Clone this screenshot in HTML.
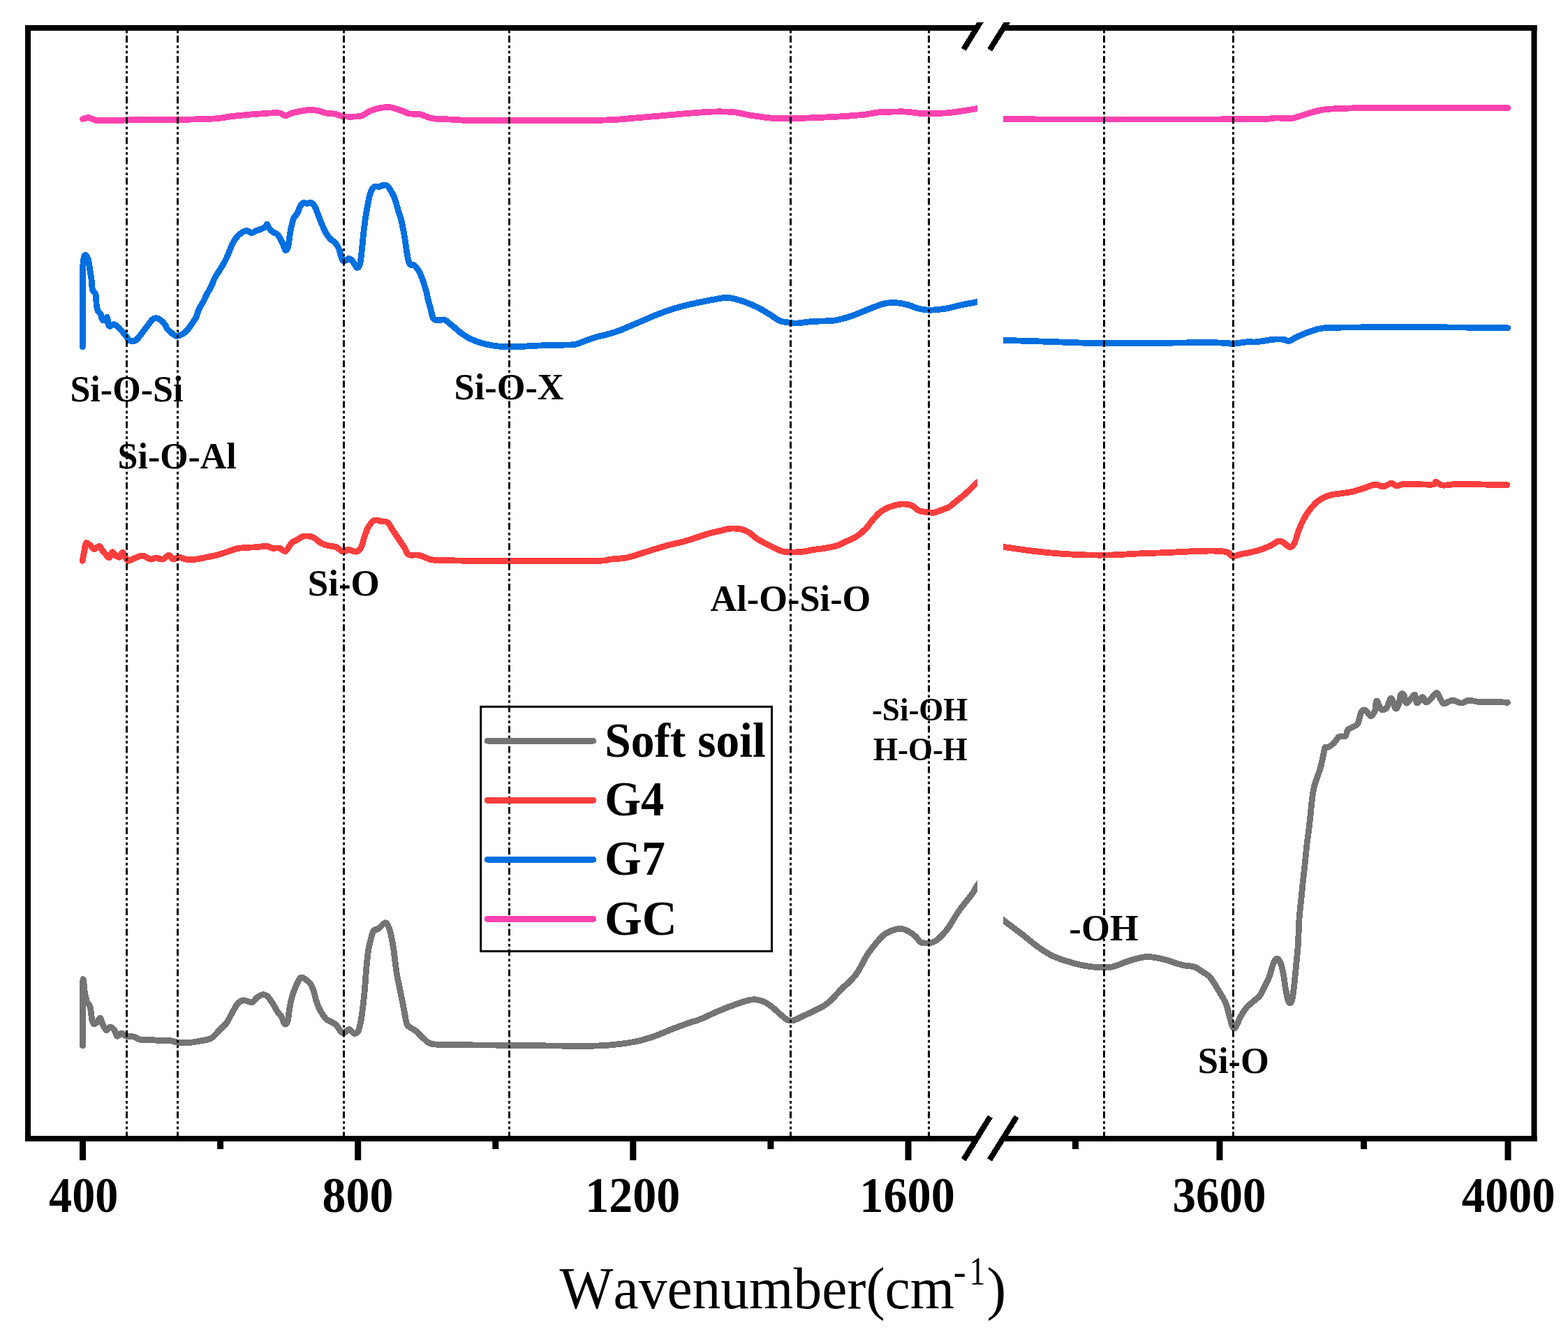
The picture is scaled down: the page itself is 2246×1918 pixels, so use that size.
<!DOCTYPE html><html><head><meta charset="utf-8"><title>FTIR spectra</title>
<style>html,body{margin:0;padding:0;background:#fff;overflow:hidden}svg{display:block}text{font-family:"Liberation Serif","Times New Roman",serif;font-kerning:none}</style></head><body>
<svg width="2246" height="1918" viewBox="0 0 2246 1918">
<rect width="2246" height="1918" fill="#fff"/>
<defs><clipPath id="cl"><rect x="44" y="44" width="1356.0" height="1583"/></clipPath>
<clipPath id="cr"><rect x="1437" y="44" width="756.5" height="1583"/></clipPath>
<clipPath id="ct"><rect x="0" y="32" width="2246" height="1918"/></clipPath></defs>
<path d="M118.5,170.5 C119.9,170.2 123.7,168.3 127.0,168.6 C130.3,168.9 133.4,171.8 138.6,172.5 C143.8,173.2 150.9,172.6 158.0,172.5 C165.1,172.4 174.0,172.2 181.0,172.0 C188.0,171.8 187.8,171.6 200.0,171.5 C212.2,171.4 238.5,171.7 254.0,171.5 C269.5,171.3 283.3,170.8 293.0,170.5 C302.7,170.2 305.6,170.2 312.0,169.6 C318.4,169.0 325.2,167.5 331.7,166.7 C338.2,165.9 344.6,165.3 351.0,164.7 C357.4,164.1 363.6,163.7 370.0,163.2 C376.4,162.7 384.4,162.1 389.6,161.9 C394.8,161.7 397.8,161.4 401.0,162.0 C404.2,162.6 406.1,165.7 409.0,165.7 C411.9,165.7 413.7,163.2 418.5,161.9 C423.3,160.6 433.0,158.7 437.8,158.0 C442.6,157.3 444.3,157.4 447.5,157.6 C450.7,157.8 453.8,158.3 457.0,159.0 C460.2,159.7 463.0,161.2 466.8,161.9 C470.6,162.6 475.9,162.4 480.0,163.2 C484.1,164.0 486.8,166.1 491.6,166.7 C496.4,167.3 504.5,167.2 509.0,167.0 C513.5,166.8 515.1,167.0 518.6,165.7 C522.1,164.4 525.2,160.9 530.0,159.0 C534.8,157.1 542.4,154.9 547.6,154.1 C552.8,153.3 556.2,153.3 561.0,154.1 C565.8,154.9 572.3,157.6 576.5,159.0 C580.7,160.4 581.8,162.0 586.0,162.8 C590.2,163.6 596.1,162.7 601.6,163.8 C607.1,164.9 611.9,168.4 619.0,169.6 C626.1,170.8 635.0,170.5 644.0,171.0 C653.0,171.5 658.5,172.2 673.0,172.5 C687.5,172.8 711.7,172.4 731.0,172.5 C750.3,172.6 769.7,172.9 789.0,172.9 C808.3,172.9 831.6,172.7 846.8,172.5 C862.0,172.3 871.4,171.9 880.0,171.5 C888.6,171.1 889.1,170.8 898.6,170.0 C908.1,169.2 924.1,167.8 937.0,166.7 C949.9,165.6 962.9,164.3 975.8,163.2 C988.7,162.1 1004.8,160.9 1014.4,160.3 C1024.0,159.8 1027.3,159.8 1033.7,159.9 C1040.1,160.0 1046.6,160.1 1053.0,160.9 C1059.4,161.7 1065.5,163.6 1072.0,164.7 C1078.5,165.8 1085.2,166.8 1091.7,167.6 C1098.2,168.4 1104.0,169.3 1111.0,169.6 C1118.0,169.9 1124.3,169.8 1134.0,169.6 C1143.7,169.4 1156.8,169.1 1169.0,168.6 C1181.2,168.1 1198.7,167.2 1207.5,166.7 C1216.3,166.2 1216.7,165.9 1222.0,165.5 C1227.3,165.1 1233.2,164.8 1239.3,164.0 C1245.4,163.2 1252.1,161.6 1258.6,160.9 C1265.0,160.2 1271.6,160.2 1278.0,160.1 C1284.4,159.9 1290.6,159.7 1297.0,160.0 C1303.4,160.3 1310.9,161.8 1316.5,162.2 C1322.1,162.6 1324.1,162.4 1330.5,162.3 C1336.9,162.2 1347.7,162.4 1355.0,161.9 C1362.3,161.4 1367.0,160.6 1374.4,159.5 C1381.8,158.4 1393.6,156.6 1399.5,155.5 C1405.4,154.4 1408.2,153.4 1410.0,153.0" fill="none" stroke="#FD42B0" stroke-width="8.8" stroke-linejoin="round" stroke-linecap="round" shape-rendering="crispEdges" clip-path="url(#cl)"/>
<path d="M1425.0,170.5 C1427.0,170.5 1425.0,170.4 1437.0,170.5 C1449.0,170.6 1474.2,170.9 1497.0,171.0 C1519.8,171.1 1548.5,171.1 1574.0,171.1 C1599.5,171.1 1624.2,171.0 1650.0,171.0 C1675.8,171.0 1703.0,171.1 1729.0,171.0 C1755.0,170.9 1790.8,170.7 1806.0,170.5 C1821.2,170.3 1816.2,170.1 1820.0,169.8 C1823.8,169.6 1824.3,169.0 1829.0,169.0 C1833.7,169.0 1843.2,169.8 1848.0,169.6 C1852.8,169.4 1853.2,168.9 1858.0,167.6 C1862.8,166.2 1870.6,163.3 1877.0,161.5 C1883.4,159.7 1890.0,158.0 1896.5,157.0 C1903.0,156.0 1906.4,156.1 1916.0,155.7 C1925.6,155.3 1934.7,154.8 1954.0,154.5 C1973.3,154.2 2007.4,154.1 2031.7,154.1 C2056.0,154.1 2078.6,154.2 2100.0,154.3 C2121.4,154.4 2150.0,154.6 2160.0,154.7" fill="none" stroke="#FD42B0" stroke-width="8.8" stroke-linejoin="round" stroke-linecap="round" shape-rendering="crispEdges" clip-path="url(#cr)"/>
<path d="M118.5,496.7 C118.5,488.9 118.6,466.1 118.6,450.0 C118.6,433.9 118.6,412.0 118.7,400.0 C118.8,388.0 118.7,383.2 119.0,378.0 C119.3,372.8 119.7,370.7 120.3,368.5 C120.9,366.3 121.7,365.1 122.4,365.0 C123.1,364.9 123.9,366.4 124.6,367.8 C125.3,369.2 126.1,370.0 126.8,373.3 C127.5,376.6 128.3,383.2 129.0,387.8 C129.7,392.4 130.5,396.2 131.1,400.8 C131.7,405.4 131.6,411.9 132.6,415.3 C133.6,418.7 135.9,417.1 136.9,421.0 C137.9,424.9 137.8,434.4 138.4,438.5 C139.0,442.6 139.5,443.8 140.5,445.7 C141.5,447.6 143.2,448.1 144.2,450.0 C145.2,451.9 145.3,455.9 146.3,457.3 C147.3,458.8 148.8,459.2 150.0,458.7 C151.2,458.2 152.8,453.4 153.6,454.4 C154.4,455.4 154.3,462.3 155.0,464.5 C155.7,466.7 156.7,467.4 157.9,467.4 C159.1,467.4 160.6,464.5 162.3,464.5 C164.0,464.5 166.1,465.9 168.0,467.4 C169.9,468.8 172.1,471.4 173.8,473.2 C175.5,475.0 177.0,476.9 178.2,478.3 C179.4,479.8 179.8,480.3 181.0,481.9 C182.2,483.5 183.5,486.6 185.4,487.7 C187.3,488.8 190.5,489.1 192.7,488.4 C194.9,487.7 196.6,485.4 198.5,483.3 C200.4,481.2 201.8,479.2 204.2,476.1 C206.6,473.0 210.5,467.6 212.9,464.5 C215.3,461.4 216.8,458.8 218.7,457.3 C220.6,455.9 222.6,455.6 224.5,455.8 C226.4,456.0 228.4,457.2 230.3,458.7 C232.2,460.1 234.7,462.6 236.1,464.5 C237.5,466.4 237.6,468.4 239.0,470.3 C240.4,472.2 242.6,474.3 244.8,476.1 C247.0,477.9 249.6,480.6 252.0,481.2 C254.4,481.8 256.9,480.8 259.3,479.7 C261.7,478.6 264.1,477.0 266.5,474.7 C268.9,472.4 271.0,469.4 273.4,466.0 C275.8,462.6 279.0,458.0 281.0,454.0 C283.0,450.0 283.6,445.8 285.3,442.1 C287.0,438.4 289.2,435.7 291.2,432.0 C293.2,428.3 295.1,423.9 297.1,420.1 C299.1,416.3 301.4,412.6 303.1,409.1 C304.8,405.6 305.8,402.0 307.3,398.9 C308.9,395.8 310.6,393.4 312.4,390.4 C314.2,387.4 316.3,384.5 318.3,381.1 C320.3,377.7 322.6,373.5 324.3,370.0 C326.0,366.5 327.1,363.3 328.5,359.9 C329.9,356.5 331.2,352.8 332.8,349.7 C334.4,346.6 335.9,343.8 337.9,341.2 C339.9,338.6 342.1,336.2 344.6,334.4 C347.1,332.6 350.4,330.7 353.1,330.6 C355.8,330.5 358.4,333.7 360.8,333.6 C363.2,333.5 365.3,331.1 367.5,330.2 C369.7,329.3 371.5,329.3 373.8,328.3 C376.1,327.3 379.7,325.2 381.1,324.0 C382.6,322.8 381.8,320.6 382.5,321.1 C383.2,321.6 383.9,325.0 385.4,326.9 C386.8,328.8 389.3,331.2 391.2,332.7 C393.1,334.1 395.1,333.7 397.0,335.6 C398.9,337.5 401.1,341.1 402.8,344.2 C404.5,347.3 406.0,352.0 407.1,354.4 C408.2,356.8 408.3,358.9 409.3,358.7 C410.3,358.4 411.8,357.2 412.9,352.9 C414.0,348.6 414.6,339.2 415.8,332.7 C417.0,326.2 418.5,318.4 420.2,313.8 C421.9,309.2 424.3,308.3 426.0,305.2 C427.7,302.1 428.9,297.4 430.3,295.0 C431.8,292.6 433.0,291.3 434.7,290.7 C436.4,290.1 438.7,291.5 440.4,291.4 C442.1,291.3 443.1,289.4 444.8,290.0 C446.5,290.6 448.7,291.8 450.6,295.0 C452.5,298.2 454.5,304.7 456.4,309.5 C458.3,314.3 460.3,319.6 462.2,324.0 C464.1,328.4 466.1,332.5 468.0,335.6 C469.9,338.7 471.8,340.9 473.7,342.8 C475.6,344.7 477.6,344.9 479.5,347.1 C481.4,349.3 483.9,352.7 485.3,355.8 C486.8,358.9 487.2,363.1 488.2,366.0 C489.2,368.9 489.9,372.0 491.1,373.2 C492.3,374.4 494.1,373.7 495.5,373.2 C496.9,372.7 498.1,370.1 499.8,370.3 C501.5,370.6 503.7,372.5 505.6,374.7 C507.5,376.9 509.7,382.8 511.4,383.3 C513.1,383.8 514.5,382.1 515.7,377.5 C516.9,372.9 517.6,364.2 518.6,355.8 C519.6,347.4 520.3,336.5 521.5,326.9 C522.7,317.2 524.4,306.1 525.9,297.9 C527.4,289.7 528.5,282.7 530.2,277.6 C531.9,272.5 533.8,269.2 536.0,267.5 C538.2,265.8 541.0,267.9 543.2,267.5 C545.4,267.1 547.1,265.5 549.0,265.3 C550.9,265.1 552.9,264.5 554.8,266.1 C556.7,267.7 558.9,271.8 560.6,274.7 C562.3,277.6 563.3,278.8 565.0,283.4 C566.7,288.0 569.0,296.8 570.7,302.3 C572.4,307.9 573.7,310.7 575.1,316.7 C576.5,322.7 578.2,331.3 579.4,338.5 C580.6,345.7 581.5,353.9 582.5,360.0 C583.5,366.1 584.5,371.8 585.5,375.0 C586.5,378.2 587.2,378.7 588.5,379.5 C589.8,380.3 591.3,378.9 593.0,380.0 C594.7,381.1 597.1,383.8 598.8,386.3 C600.5,388.8 601.9,391.9 603.2,395.0 C604.5,398.1 605.6,401.6 606.8,405.2 C608.0,408.8 609.3,412.6 610.4,416.7 C611.5,420.8 612.2,425.4 613.3,429.8 C614.4,434.2 615.7,438.5 616.9,442.8 C618.1,447.1 618.9,453.2 620.5,455.8 C622.1,458.4 623.6,458.3 626.3,458.7 C629.0,459.1 633.6,457.3 636.5,458.0 C639.4,458.7 641.1,461.1 643.7,463.1 C646.4,465.2 649.5,467.9 652.4,470.3 C655.3,472.7 657.7,475.1 661.1,477.5 C664.5,479.9 668.4,482.6 672.7,484.8 C677.0,487.0 682.3,489.0 687.1,490.6 C691.9,492.2 696.5,493.2 701.6,494.2 C706.7,495.2 712.9,496.0 717.5,496.4 C722.1,496.8 724.3,496.7 729.1,496.7 C733.9,496.7 740.0,496.6 746.5,496.4 C753.0,496.1 759.8,495.6 768.2,495.2 C776.7,494.8 788.0,494.5 797.2,494.2 C806.4,493.9 816.5,494.5 823.2,493.5 C830.0,492.5 832.4,490.2 837.7,488.4 C843.0,486.6 849.8,484.2 855.1,482.6 C860.4,481.0 864.3,480.5 869.6,479.0 C874.9,477.5 879.6,476.4 887.0,473.6 C894.4,470.8 905.0,466.0 914.0,462.2 C923.0,458.4 932.1,454.2 941.1,450.7 C950.1,447.2 959.1,443.9 968.1,441.2 C977.1,438.5 986.1,436.5 995.1,434.5 C1004.1,432.5 1014.3,430.5 1022.2,429.1 C1030.1,427.8 1035.7,426.1 1042.4,426.4 C1049.2,426.7 1055.9,429.0 1062.7,431.1 C1069.5,433.2 1076.2,435.9 1083.0,439.2 C1089.8,442.5 1097.6,447.3 1103.2,450.7 C1108.8,454.1 1112.1,457.6 1116.8,459.5 C1121.5,461.4 1127.4,461.7 1131.6,462.3 C1135.8,462.9 1136.4,463.3 1141.7,463.0 C1147.0,462.7 1155.0,461.1 1163.4,460.5 C1171.9,459.9 1185.2,460.1 1192.4,459.4 C1199.7,458.7 1202.1,457.7 1206.9,456.5 C1211.7,455.3 1216.6,453.8 1221.4,452.1 C1226.2,450.4 1231.0,448.2 1235.8,446.3 C1240.6,444.4 1245.9,442.2 1250.3,440.5 C1254.7,438.8 1258.3,437.3 1261.9,436.2 C1265.5,435.1 1267.9,434.4 1272.0,434.0 C1276.1,433.6 1281.7,433.5 1286.5,434.0 C1291.3,434.5 1296.2,435.6 1301.0,436.9 C1305.8,438.2 1310.7,440.8 1315.5,442.0 C1320.3,443.2 1325.1,444.0 1329.9,444.2 C1334.7,444.4 1339.6,443.9 1344.4,443.4 C1349.2,442.9 1354.1,442.3 1358.9,441.3 C1363.7,440.3 1368.6,438.7 1373.4,437.6 C1378.2,436.5 1383.6,435.5 1387.9,434.7 C1392.2,433.9 1395.8,433.3 1399.5,432.6 C1403.2,431.9 1408.2,430.9 1410.0,430.5" fill="none" stroke="#006FE0" stroke-width="8.8" stroke-linejoin="round" stroke-linecap="round" shape-rendering="crispEdges" clip-path="url(#cl)"/>
<path d="M1425.0,487.0 C1427.0,487.1 1425.0,486.9 1437.0,487.3 C1449.0,487.7 1477.5,488.6 1497.2,489.2 C1516.9,489.8 1535.8,490.8 1555.1,491.2 C1574.4,491.6 1593.7,491.5 1613.0,491.5 C1632.3,491.5 1651.7,491.3 1671.0,491.2 C1690.3,491.1 1714.4,490.6 1728.9,490.6 C1743.4,490.7 1751.9,491.2 1758.0,491.5 C1764.1,491.8 1760.8,492.8 1765.6,492.5 C1770.4,492.2 1781.1,490.2 1786.8,489.8 C1792.5,489.4 1793.9,490.4 1800.0,489.8 C1806.1,489.2 1816.8,486.9 1823.2,486.3 C1829.6,485.7 1834.8,485.9 1838.6,486.3 C1842.4,486.7 1843.1,489.2 1846.3,488.6 C1849.5,488.0 1852.8,484.8 1857.9,482.5 C1863.1,480.2 1870.8,476.8 1877.2,474.7 C1883.6,472.6 1886.8,470.8 1896.5,469.9 C1906.2,468.9 1919.0,469.2 1935.1,469.0 C1951.2,468.8 1967.2,468.6 1993.0,468.6 C2018.8,468.6 2061.8,468.8 2089.6,469.0 C2117.4,469.2 2148.3,469.8 2160.0,469.9" fill="none" stroke="#006FE0" stroke-width="8.8" stroke-linejoin="round" stroke-linecap="round" shape-rendering="crispEdges" clip-path="url(#cr)"/>
<path d="M118.1,803.3 C118.6,800.8 120.2,792.2 121.0,788.0 C121.8,783.8 121.9,779.1 123.2,777.9 C124.5,776.7 127.1,779.3 129.0,780.8 C130.9,782.2 132.5,786.4 134.7,786.6 C136.9,786.9 140.1,782.1 142.0,782.3 C143.9,782.5 144.9,786.2 146.3,788.0 C147.8,789.8 149.0,791.3 150.7,793.1 C152.4,794.9 154.8,799.3 156.5,798.9 C158.2,798.5 159.4,791.5 160.8,790.9 C162.2,790.3 163.5,794.1 165.2,795.3 C166.9,796.5 169.2,798.9 170.9,798.2 C172.6,797.5 173.9,790.9 175.3,790.9 C176.8,790.9 178.2,796.1 179.6,798.2 C181.0,800.3 181.8,803.1 184.0,803.3 C186.2,803.5 189.3,800.8 192.7,799.6 C196.1,798.4 200.3,795.8 204.2,796.0 C208.0,796.2 212.7,800.6 215.8,801.1 C219.0,801.6 220.2,798.9 223.1,798.9 C226.0,798.9 230.1,801.7 233.2,801.1 C236.3,800.5 239.5,795.3 241.9,795.3 C244.3,795.3 245.3,800.6 247.7,801.1 C250.1,801.6 253.3,798.2 256.4,798.2 C259.5,798.2 262.4,800.6 266.5,801.1 C270.6,801.6 276.2,801.6 281.0,801.1 C285.8,800.6 290.7,799.2 295.5,798.2 C300.3,797.2 305.1,796.5 309.9,795.3 C314.7,794.1 319.6,792.5 324.4,790.9 C329.2,789.3 334.1,787.0 338.9,785.9 C343.7,784.8 348.6,784.8 353.4,784.4 C358.2,784.0 363.1,784.1 367.9,783.7 C372.7,783.4 378.7,782.0 382.3,782.3 C385.9,782.5 386.6,784.7 389.6,785.2 C392.6,785.7 397.1,784.5 400.3,785.2 C403.5,785.9 406.1,790.7 409.0,789.5 C411.9,788.3 414.7,780.7 417.6,777.9 C420.5,775.1 423.6,774.4 426.3,772.8 C429.0,771.2 430.5,769.2 433.6,768.5 C436.8,767.8 442.1,767.9 445.2,768.5 C448.3,769.1 450.0,770.5 452.4,772.1 C454.8,773.7 456.7,776.3 459.6,777.9 C462.5,779.5 466.2,780.5 469.8,781.5 C473.4,782.5 477.8,782.2 481.4,783.7 C485.0,785.2 488.6,789.6 491.5,790.2 C494.4,790.8 495.6,787.3 498.7,787.3 C501.8,787.3 507.2,790.8 510.3,790.2 C513.4,789.6 515.6,787.2 517.5,783.7 C519.4,780.2 520.2,774.0 521.9,769.2 C523.6,764.4 525.3,758.7 527.7,754.7 C530.1,750.7 533.3,746.6 536.4,745.3 C539.5,744.0 543.4,746.3 546.5,746.8 C549.6,747.3 552.6,746.2 555.2,748.2 C557.9,750.2 559.8,755.1 562.4,759.1 C565.0,763.1 568.2,767.8 571.1,772.1 C574.0,776.5 577.4,781.5 579.8,785.2 C582.2,789.0 582.2,792.9 585.6,794.6 C589.0,796.3 594.6,794.1 600.1,795.3 C605.6,796.5 612.1,800.6 618.9,801.8 C625.6,803.0 630.4,802.2 640.6,802.5 C650.8,802.8 645.3,803.1 680.0,803.3 C714.7,803.4 816.5,803.8 848.7,803.4 C880.9,803.0 865.1,802.0 873.3,801.2 C881.5,800.4 889.7,800.4 897.9,798.8 C906.1,797.2 913.0,794.3 922.6,791.4 C932.2,788.5 945.8,784.1 955.4,781.5 C965.0,778.9 973.0,777.4 980.0,775.5 C987.0,773.6 991.6,772.0 997.4,770.1 C1003.2,768.2 1009.0,765.9 1014.8,764.3 C1020.6,762.6 1027.1,761.4 1032.1,760.2 C1037.1,759.0 1040.1,757.7 1044.9,757.3 C1049.7,756.9 1056.5,757.0 1061.1,757.9 C1065.7,758.8 1068.8,760.3 1072.7,762.6 C1076.6,764.9 1079.5,768.7 1084.3,771.8 C1089.1,774.9 1095.8,778.2 1101.6,781.1 C1107.4,784.0 1114.2,787.6 1119.0,789.2 C1123.8,790.8 1125.8,790.7 1130.6,790.9 C1135.4,791.1 1142.2,791.0 1148.0,790.4 C1153.8,789.8 1159.5,788.4 1165.3,787.5 C1171.1,786.6 1176.9,786.1 1182.7,785.1 C1188.5,784.1 1195.3,782.8 1200.0,781.3 C1204.7,779.8 1206.2,778.3 1210.6,776.2 C1215.0,774.1 1221.5,771.9 1226.5,768.7 C1231.5,765.5 1236.8,760.6 1240.3,757.1 C1243.8,753.6 1244.8,751.0 1247.8,747.5 C1250.8,744.0 1254.9,739.0 1258.4,735.8 C1261.9,732.6 1264.6,730.5 1269.0,728.4 C1273.4,726.3 1280.5,724.2 1284.9,723.1 C1289.3,722.0 1292.0,721.8 1295.6,722.0 C1299.1,722.2 1302.7,722.6 1306.2,724.2 C1309.7,725.8 1312.7,730.0 1316.8,731.6 C1320.9,733.2 1327.1,733.3 1330.6,733.7 C1334.1,734.1 1335.0,734.7 1338.0,734.2 C1341.0,733.7 1345.2,731.8 1348.7,730.5 C1352.2,729.2 1355.8,728.4 1359.3,726.3 C1362.8,724.2 1366.4,720.6 1369.9,717.8 C1373.4,715.0 1376.9,712.4 1380.5,709.3 C1384.1,706.1 1388.8,701.6 1391.6,698.9 C1394.4,696.2 1396.1,694.6 1397.5,693.3 C1398.9,692.0 1397.9,692.5 1400.0,691.0 C1402.1,689.5 1408.3,685.2 1410.0,684.0" fill="none" stroke="#FD3E3E" stroke-width="8.8" stroke-linejoin="round" stroke-linecap="round" shape-rendering="crispEdges" clip-path="url(#cl)"/>
<path d="M1425.0,781.5 C1427.0,781.8 1428.2,782.0 1437.0,783.3 C1445.8,784.6 1464.7,787.5 1477.9,789.1 C1491.2,790.7 1503.6,791.9 1516.5,792.9 C1529.4,793.9 1542.2,794.6 1555.1,794.9 C1568.0,795.2 1580.8,795.2 1593.7,794.9 C1606.6,794.6 1619.5,793.4 1632.4,792.9 C1645.3,792.4 1658.1,792.1 1671.0,791.6 C1683.9,791.1 1698.3,790.1 1709.6,789.7 C1720.8,789.3 1730.5,788.9 1738.5,789.1 C1746.5,789.3 1753.3,789.7 1757.8,791.0 C1762.3,792.3 1762.4,796.3 1765.6,796.8 C1768.8,797.3 1771.3,795.2 1777.1,793.9 C1782.9,792.6 1793.3,791.0 1800.3,789.0 C1807.3,787.0 1814.2,784.3 1819.3,782.0 C1824.4,779.7 1827.7,776.0 1830.9,775.2 C1834.1,774.4 1835.9,775.7 1838.6,777.1 C1841.3,778.5 1844.7,783.7 1847.3,783.9 C1849.9,784.1 1852.0,782.0 1854.1,778.1 C1856.2,774.2 1857.9,765.9 1859.8,760.7 C1861.7,755.6 1863.3,751.7 1865.6,747.2 C1867.9,742.7 1870.2,738.2 1873.4,733.7 C1876.6,729.2 1881.1,723.7 1884.9,720.2 C1888.8,716.7 1892.6,714.4 1896.5,712.5 C1900.4,710.6 1901.7,709.9 1908.1,708.6 C1914.5,707.3 1927.4,706.3 1935.1,704.7 C1942.8,703.1 1948.6,700.8 1954.4,699.0 C1960.2,697.2 1965.4,694.4 1969.9,694.1 C1974.4,693.8 1977.7,697.3 1981.5,697.0 C1985.3,696.7 1989.8,692.4 1993.0,692.2 C1996.2,692.1 1997.6,695.9 2000.8,696.1 C2004.0,696.3 2004.0,693.5 2012.4,693.2 C2020.8,692.9 2043.6,694.6 2051.0,694.1 C2058.4,693.6 2054.2,690.1 2056.8,690.3 C2059.4,690.5 2060.9,694.6 2066.4,695.1 C2071.9,695.6 2079.3,693.4 2089.6,693.2 C2099.9,693.0 2116.6,693.9 2128.2,694.1 C2139.8,694.4 2153.9,694.6 2159.1,694.7" fill="none" stroke="#FD3E3E" stroke-width="8.8" stroke-linejoin="round" stroke-linecap="round" shape-rendering="crispEdges" clip-path="url(#cr)"/>
<path d="M118.5,1498.0 C118.5,1482.7 118.3,1418.5 118.8,1406.1 C119.3,1393.7 120.7,1418.6 121.7,1423.4 C122.7,1428.2 123.4,1431.8 124.6,1435.0 C125.8,1438.2 127.8,1438.0 129.0,1442.3 C130.2,1446.6 131.0,1457.0 131.9,1461.1 C132.8,1465.2 133.5,1466.4 134.7,1466.9 C135.9,1467.4 137.6,1465.5 139.1,1464.0 C140.6,1462.5 142.2,1458.0 143.4,1458.2 C144.6,1458.4 144.9,1462.5 146.3,1465.4 C147.8,1468.3 150.2,1474.6 152.1,1475.6 C154.0,1476.6 156.0,1471.2 157.9,1471.2 C159.8,1471.2 162.0,1473.4 163.7,1475.6 C165.4,1477.8 166.3,1483.5 168.0,1484.2 C169.7,1484.9 171.6,1479.9 173.8,1479.9 C176.0,1479.9 178.2,1483.4 181.1,1484.2 C184.0,1485.0 187.8,1484.2 191.2,1485.0 C194.6,1485.8 197.3,1488.6 201.4,1489.3 C205.5,1490.0 211.0,1489.0 215.8,1489.3 C220.6,1489.5 225.5,1490.5 230.3,1490.8 C235.1,1491.0 240.9,1490.4 244.8,1490.8 C248.7,1491.2 249.4,1492.4 253.5,1492.9 C257.6,1493.4 263.6,1494.1 269.4,1493.7 C275.2,1493.3 282.6,1491.9 288.2,1490.8 C293.8,1489.7 298.3,1489.6 302.7,1487.1 C307.1,1484.6 310.7,1479.2 314.3,1475.6 C317.9,1472.0 321.5,1469.3 324.4,1465.4 C327.3,1461.5 329.0,1457.0 331.7,1452.4 C334.4,1447.8 337.4,1441.2 340.3,1437.9 C343.2,1434.6 345.6,1433.2 349.0,1432.8 C352.4,1432.4 357.5,1436.3 360.6,1435.7 C363.8,1435.1 365.5,1431.0 367.9,1429.2 C370.3,1427.4 372.7,1425.4 375.1,1424.9 C377.5,1424.4 380.1,1424.8 382.3,1426.3 C384.5,1427.8 386.6,1431.5 388.1,1433.6 C389.7,1435.7 390.1,1436.4 391.6,1439.0 C393.2,1441.6 395.5,1446.2 397.4,1449.1 C399.3,1452.0 401.5,1453.5 403.2,1456.4 C404.9,1459.3 406.1,1465.3 407.5,1466.5 C408.9,1467.7 410.7,1467.2 411.9,1463.6 C413.1,1460.0 413.8,1450.3 414.7,1444.8 C415.6,1439.2 416.4,1434.9 417.6,1430.3 C418.8,1425.7 420.3,1421.6 422.0,1417.3 C423.7,1413.0 426.1,1407.1 427.8,1404.2 C429.5,1401.3 430.2,1399.9 432.1,1399.9 C434.0,1399.9 437.2,1402.5 439.4,1404.2 C441.6,1405.9 443.5,1407.3 445.2,1410.0 C446.9,1412.7 448.1,1415.9 449.5,1420.2 C450.9,1424.5 452.1,1431.3 453.8,1436.1 C455.5,1440.9 457.4,1445.2 459.6,1449.1 C461.8,1453.0 464.5,1456.9 466.9,1459.3 C469.3,1461.7 471.7,1462.1 474.1,1463.6 C476.5,1465.0 479.0,1465.6 481.4,1468.0 C483.8,1470.4 486.7,1476.2 488.6,1478.1 C490.5,1480.0 491.0,1480.1 492.9,1479.5 C494.8,1478.9 497.8,1474.4 500.2,1474.5 C502.6,1474.6 505.2,1480.0 507.4,1480.3 C509.6,1480.6 511.5,1480.1 513.2,1476.6 C514.9,1473.1 516.0,1468.2 517.5,1459.3 C519.0,1450.4 520.7,1435.2 521.9,1423.1 C523.1,1411.0 523.8,1397.3 524.8,1386.9 C525.8,1376.5 526.7,1367.3 527.7,1360.8 C528.7,1354.3 529.4,1352.4 530.6,1347.8 C531.8,1343.2 533.2,1336.1 534.9,1333.3 C536.6,1330.5 538.8,1332.3 540.7,1331.1 C542.6,1329.9 544.6,1327.7 546.5,1326.1 C548.4,1324.5 550.6,1321.5 552.3,1321.7 C554.0,1321.9 555.1,1323.9 556.6,1327.5 C558.1,1331.1 559.8,1337.9 561.0,1343.4 C562.2,1349.0 562.7,1352.3 563.9,1360.8 C565.1,1369.2 566.8,1384.9 568.2,1394.1 C569.7,1403.3 570.9,1407.3 572.6,1415.8 C574.3,1424.2 576.7,1436.3 578.4,1444.8 C580.1,1453.2 581.0,1461.9 582.7,1466.5 C584.4,1471.1 586.3,1470.6 588.5,1472.3 C590.7,1474.0 593.3,1474.7 595.7,1476.6 C598.1,1478.5 599.9,1481.0 603.0,1483.9 C606.1,1486.8 610.8,1492.0 614.6,1494.0 C618.5,1496.0 619.4,1495.8 626.1,1496.2 C632.9,1496.6 646.1,1496.1 655.1,1496.2 C664.1,1496.3 671.0,1496.8 680.0,1497.0 C689.0,1497.2 690.7,1496.9 709.2,1497.1 C727.8,1497.3 766.7,1497.8 791.3,1498.0 C815.9,1498.2 840.5,1498.5 856.9,1498.0 C873.3,1497.5 880.1,1496.4 889.7,1495.2 C899.3,1494.0 906.1,1493.0 914.3,1491.1 C922.5,1489.2 930.8,1486.6 939.0,1483.7 C947.2,1480.8 955.4,1477.0 963.6,1473.8 C971.8,1470.6 981.6,1467.1 988.2,1464.8 C994.8,1462.5 996.9,1462.5 1003.2,1459.9 C1009.6,1457.4 1018.6,1452.8 1026.3,1449.5 C1034.0,1446.2 1041.8,1443.0 1049.5,1440.2 C1057.2,1437.4 1066.9,1434.1 1072.7,1432.7 C1078.5,1431.3 1080.5,1431.6 1084.3,1432.1 C1088.1,1432.6 1091.9,1433.7 1095.8,1435.6 C1099.7,1437.5 1103.5,1440.6 1107.4,1443.7 C1111.3,1446.8 1115.5,1451.2 1119.0,1454.1 C1122.5,1457.0 1125.4,1459.8 1128.3,1461.1 C1131.2,1462.4 1133.1,1462.5 1136.4,1461.7 C1139.7,1460.9 1143.2,1458.7 1148.0,1456.5 C1152.8,1454.3 1159.5,1451.2 1165.3,1448.3 C1171.1,1445.4 1177.9,1442.4 1182.7,1439.1 C1187.5,1435.8 1190.5,1432.5 1194.3,1428.7 C1198.1,1424.9 1201.7,1420.1 1205.3,1416.5 C1208.9,1412.9 1212.4,1410.6 1215.9,1407.1 C1219.4,1403.6 1223.5,1399.6 1226.5,1395.5 C1229.5,1391.4 1231.5,1387.1 1234.0,1382.7 C1236.5,1378.3 1238.8,1373.2 1241.4,1368.9 C1244.1,1364.7 1246.7,1361.3 1249.9,1357.2 C1253.1,1353.1 1257.3,1347.8 1260.5,1344.5 C1263.7,1341.2 1265.8,1339.1 1269.0,1337.1 C1272.2,1335.1 1276.0,1333.4 1279.6,1332.3 C1283.1,1331.2 1286.8,1329.9 1290.3,1330.2 C1293.8,1330.5 1297.4,1332.1 1300.9,1333.9 C1304.4,1335.8 1308.5,1338.7 1311.5,1341.3 C1314.5,1343.9 1315.7,1348.2 1318.9,1349.8 C1322.1,1351.4 1327.0,1351.2 1330.6,1350.9 C1334.1,1350.6 1336.8,1349.8 1340.2,1347.7 C1343.6,1345.6 1347.6,1341.5 1350.8,1338.1 C1354.0,1334.7 1356.5,1331.6 1359.3,1327.5 C1362.1,1323.4 1365.0,1318.1 1367.8,1313.7 C1370.6,1309.3 1373.3,1305.1 1376.3,1301.0 C1379.3,1296.9 1383.0,1292.6 1385.8,1289.0 C1388.6,1285.4 1391.2,1282.3 1393.2,1279.5 C1395.2,1276.7 1396.4,1273.9 1397.5,1272.0 C1398.6,1270.1 1397.9,1270.8 1400.0,1268.0 C1402.1,1265.2 1408.3,1257.2 1410.0,1255.0" fill="none" stroke="#747474" stroke-width="8.8" stroke-linejoin="round" stroke-linecap="round" shape-rendering="crispEdges" clip-path="url(#cl)"/>
<path d="M1425.0,1308.0 C1427.1,1309.7 1431.0,1313.2 1437.4,1318.2 C1443.8,1323.2 1455.4,1331.6 1463.4,1337.8 C1471.4,1344.0 1478.0,1350.0 1485.2,1355.2 C1492.5,1360.4 1499.7,1365.3 1506.9,1368.9 C1514.1,1372.5 1521.4,1374.6 1528.6,1376.9 C1535.8,1379.2 1543.1,1381.2 1550.3,1382.7 C1557.5,1384.2 1564.8,1385.2 1572.0,1385.6 C1579.2,1385.9 1586.5,1386.2 1593.7,1384.8 C1601.0,1383.3 1608.2,1379.2 1615.5,1376.9 C1622.8,1374.6 1631.2,1372.1 1637.2,1371.1 C1643.2,1370.1 1646.9,1370.6 1651.7,1371.1 C1656.5,1371.6 1661.3,1372.8 1666.1,1374.0 C1670.9,1375.2 1675.8,1376.8 1680.6,1378.3 C1685.4,1379.8 1690.1,1381.6 1695.1,1382.7 C1700.1,1383.8 1706.3,1383.5 1710.7,1384.9 C1715.1,1386.3 1717.9,1389.0 1721.5,1391.3 C1725.1,1393.6 1729.3,1396.1 1732.2,1398.8 C1735.1,1401.5 1736.6,1404.2 1738.7,1407.4 C1740.8,1410.6 1742.9,1414.6 1745.1,1418.2 C1747.2,1421.8 1749.6,1425.3 1751.6,1428.9 C1753.6,1432.5 1755.5,1435.7 1756.9,1439.6 C1758.3,1443.5 1759.0,1447.8 1760.2,1452.5 C1761.5,1457.2 1763.2,1464.2 1764.4,1467.6 C1765.7,1471.0 1766.6,1472.6 1767.7,1472.9 C1768.8,1473.2 1769.3,1472.6 1770.9,1469.7 C1772.5,1466.8 1774.8,1460.2 1777.3,1455.7 C1779.8,1451.2 1782.7,1446.7 1785.9,1442.9 C1789.1,1439.2 1793.7,1435.9 1796.7,1433.2 C1799.8,1430.5 1801.7,1430.1 1804.2,1426.7 C1806.7,1423.3 1809.4,1417.5 1811.7,1412.8 C1814.0,1408.1 1816.2,1404.0 1818.2,1398.8 C1820.2,1393.6 1821.7,1385.9 1823.5,1381.6 C1825.3,1377.3 1827.1,1373.3 1828.9,1373.0 C1830.7,1372.7 1832.7,1375.5 1834.3,1379.5 C1835.9,1383.5 1837.3,1390.2 1838.6,1396.7 C1839.8,1403.2 1840.5,1411.8 1841.8,1418.2 C1843.0,1424.6 1844.7,1432.8 1846.1,1435.3 C1847.5,1437.8 1849.2,1437.0 1850.4,1433.2 C1851.7,1429.5 1852.5,1421.6 1853.6,1412.8 C1854.7,1404.0 1855.8,1390.4 1856.8,1380.6 C1857.8,1370.8 1858.6,1364.3 1859.3,1353.7 C1860.0,1343.1 1860.3,1327.4 1861.0,1316.7 C1861.7,1306.0 1862.8,1298.5 1863.7,1289.5 C1864.6,1280.5 1865.5,1271.5 1866.4,1262.4 C1867.4,1253.4 1868.5,1244.2 1869.4,1235.2 C1870.4,1226.2 1871.3,1215.3 1872.1,1208.1 C1872.9,1200.9 1873.6,1198.9 1874.4,1192.0 C1875.2,1185.1 1876.4,1174.7 1877.2,1166.7 C1878.0,1158.7 1878.6,1150.9 1879.5,1144.1 C1880.4,1137.3 1881.3,1131.3 1882.6,1126.0 C1883.9,1120.7 1885.6,1116.9 1887.1,1112.4 C1888.6,1107.9 1890.3,1104.1 1891.7,1098.8 C1893.1,1093.5 1894.7,1085.4 1895.7,1080.7 C1896.8,1076.0 1896.7,1072.6 1898.0,1070.8 C1899.3,1069.0 1901.3,1071.0 1903.4,1069.9 C1905.5,1068.8 1908.3,1066.8 1910.7,1064.4 C1913.1,1062.0 1915.2,1057.1 1917.9,1055.4 C1920.6,1053.8 1924.9,1056.2 1927.0,1054.5 C1929.1,1052.8 1928.9,1047.5 1930.6,1045.4 C1932.2,1043.3 1934.5,1043.3 1936.9,1041.8 C1939.3,1040.3 1942.8,1039.9 1944.9,1036.4 C1947.0,1032.9 1947.7,1024.2 1949.5,1021.0 C1951.3,1017.8 1953.4,1016.3 1955.7,1017.1 C1958.0,1017.9 1961.1,1025.5 1963.4,1025.6 C1965.7,1025.7 1968.2,1021.5 1969.6,1017.9 C1971.0,1014.3 1970.4,1004.3 1971.9,1004.0 C1973.4,1003.7 1976.3,1014.8 1978.8,1016.3 C1981.2,1017.8 1984.3,1015.9 1986.6,1013.2 C1988.9,1010.5 1990.7,999.8 1992.7,1000.1 C1994.8,1000.4 1997.1,1013.4 1998.9,1014.8 C2000.7,1016.2 2002.3,1012.0 2003.6,1008.6 C2004.9,1005.2 2005.3,996.8 2006.6,994.7 C2007.9,992.7 2010.0,994.2 2011.3,996.3 C2012.6,998.4 2012.6,1006.6 2014.4,1007.1 C2016.2,1007.6 2020.0,1001.2 2022.1,999.3 C2024.1,997.4 2025.4,994.2 2026.7,995.5 C2028.0,996.8 2028.0,1006.6 2029.8,1007.1 C2031.6,1007.6 2035.4,998.9 2037.5,998.6 C2039.6,998.3 2040.4,1004.9 2042.2,1005.5 C2044.0,1006.1 2045.7,1004.6 2048.3,1002.4 C2050.9,1000.2 2055.0,992.4 2057.6,992.4 C2060.2,992.4 2062.0,999.8 2063.8,1002.4 C2065.6,1005.0 2065.6,1007.7 2068.4,1007.8 C2071.2,1007.9 2076.7,1003.3 2080.8,1003.2 C2084.9,1003.1 2089.2,1007.1 2093.1,1007.1 C2096.9,1007.1 2099.5,1003.5 2103.9,1003.2 C2108.3,1002.9 2113.0,1005.1 2119.4,1005.5 C2125.8,1005.9 2135.8,1005.4 2142.5,1005.5 C2149.2,1005.6 2156.7,1006.2 2159.5,1006.3" fill="none" stroke="#747474" stroke-width="8.8" stroke-linejoin="round" stroke-linecap="round" shape-rendering="crispEdges" clip-path="url(#cr)"/>
<line x1="181.5" y1="44" x2="181.5" y2="1627" stroke="#000" stroke-width="3" stroke-dasharray="9.8 4.2 3.8 3.8 3.8 3.675" stroke-dashoffset="21.975"/>
<line x1="254.5" y1="44" x2="254.5" y2="1627" stroke="#000" stroke-width="3" stroke-dasharray="9.8 4.2 3.8 3.8 3.8 3.675" stroke-dashoffset="21.975"/>
<line x1="492.5" y1="44" x2="492.5" y2="1627" stroke="#000" stroke-width="3" stroke-dasharray="9.8 4.2 3.8 3.8 3.8 3.675" stroke-dashoffset="21.975"/>
<line x1="729.5" y1="44" x2="729.5" y2="1627" stroke="#000" stroke-width="3" stroke-dasharray="9.8 4.2 3.8 3.8 3.8 3.675" stroke-dashoffset="21.975"/>
<line x1="1132.5" y1="44" x2="1132.5" y2="1627" stroke="#000" stroke-width="3" stroke-dasharray="9.8 4.2 3.8 3.8 3.8 3.675" stroke-dashoffset="21.975"/>
<line x1="1330.5" y1="44" x2="1330.5" y2="1627" stroke="#000" stroke-width="3" stroke-dasharray="9.8 4.2 3.8 3.8 3.8 3.675" stroke-dashoffset="21.975"/>
<line x1="1581.5" y1="44" x2="1581.5" y2="1627" stroke="#000" stroke-width="3" stroke-dasharray="9.8 4.2 3.8 3.8 3.8 3.675" stroke-dashoffset="21.975"/>
<line x1="1766.5" y1="44" x2="1766.5" y2="1627" stroke="#000" stroke-width="3" stroke-dasharray="9.8 4.2 3.8 3.8 3.8 3.675" stroke-dashoffset="21.975"/>
<rect x="688.7" y="1012.3" width="416.8" height="350.3" fill="none" stroke="#000" stroke-width="3"/>
<line x1="698" y1="1061.2" x2="850" y2="1061.2" stroke="#747474" stroke-width="8.8" stroke-linecap="round" shape-rendering="crispEdges"/>
<line x1="698" y1="1146.3" x2="850" y2="1146.3" stroke="#FD3E3E" stroke-width="8.8" stroke-linecap="round" shape-rendering="crispEdges"/>
<line x1="698" y1="1231.2" x2="850" y2="1231.2" stroke="#006FE0" stroke-width="8.8" stroke-linecap="round" shape-rendering="crispEdges"/>
<line x1="698" y1="1316.3" x2="850" y2="1316.3" stroke="#FD42B0" stroke-width="8.8" stroke-linecap="round" shape-rendering="crispEdges"/>
<g stroke="#000" stroke-width="8" fill="none">
<line x1="40.0" y1="36" x2="40.0" y2="1635"/>
<line x1="2197.5" y1="36" x2="2197.5" y2="1635"/>
<line x1="36" y1="40.0" x2="1399.2" y2="40.0"/>
<line x1="1436.6" y1="40.0" x2="2201.5" y2="40.0"/>
<line x1="36" y1="1631.0" x2="1398.9" y2="1631.0"/>
<line x1="1436.1" y1="1631.0" x2="2201.5" y2="1631.0"/>
</g>
<g stroke="#000" stroke-width="8" stroke-linecap="butt" shape-rendering="crispEdges">
<line x1="1380.3" y1="1661.2" x2="1418.3" y2="1599.5"/>
<line x1="1417.5" y1="1661.4" x2="1456.3" y2="1599.5"/>
<g clip-path="url(#ct)"><line x1="1380.3" y1="70.7" x2="1418.3" y2="9"/>
<line x1="1417.7" y1="71.4" x2="1456.5" y2="9.5"/></g>
</g>
<g stroke="#000" stroke-width="9">
<line x1="118.5" y1="1631" x2="118.5" y2="1662"/>
<line x1="512.7" y1="1631" x2="512.7" y2="1662"/>
<line x1="906.8" y1="1631" x2="906.8" y2="1662"/>
<line x1="1301.0" y1="1631" x2="1301.0" y2="1662"/>
<line x1="315.6" y1="1631" x2="315.6" y2="1646"/>
<line x1="709.8" y1="1631" x2="709.8" y2="1646"/>
<line x1="1103.9" y1="1631" x2="1103.9" y2="1646"/>
<line x1="1747.0" y1="1631" x2="1747.0" y2="1662"/>
<line x1="2160.0" y1="1631" x2="2160.0" y2="1662"/>
<line x1="1540.5" y1="1631" x2="1540.5" y2="1646"/>
<line x1="1953.5" y1="1631" x2="1953.5" y2="1646"/>
</g>
<text transform="translate(70.07 1735.50) scale(0.9320 1)" font-size="71" font-weight="bold">400</text>
<text transform="translate(461.52 1735.50) scale(0.9574 1)" font-size="71" font-weight="bold">800</text>
<text transform="translate(838.25 1735.50) scale(0.9586 1)" font-size="71" font-weight="bold">1200</text>
<text transform="translate(1231.23 1735.50) scale(0.9624 1)" font-size="71" font-weight="bold">1600</text>
<text transform="translate(1679.53 1735.50) scale(0.9445 1)" font-size="71" font-weight="bold">3600</text>
<text transform="translate(2093.64 1735.50) scale(0.9439 1)" font-size="71" font-weight="bold">4000</text>
<text transform="translate(100.39 575.20) scale(1.0019 1)" font-size="52" font-weight="bold">Si-O-Si</text>
<text transform="translate(168.60 670.80) scale(0.9988 1)" font-size="52" font-weight="bold">Si-O-Al</text>
<text transform="translate(650.58 572.00) scale(1.0072 1)" font-size="52" font-weight="bold">Si-O-X</text>
<text transform="translate(440.74 853.30) scale(1.0189 1)" font-size="52" font-weight="bold">Si-O</text>
<text transform="translate(1017.39 875.30) scale(1.0080 1)" font-size="52" font-weight="bold">Al-O-Si-O</text>
<text transform="translate(1248.89 1031.80) scale(0.9574 1)" font-size="47" font-weight="bold">-Si-OH</text>
<text transform="translate(1251.04 1088.90) scale(0.9561 1)" font-size="47" font-weight="bold">H-O-H</text>
<text transform="translate(1531.37 1347.20) scale(1.0126 1)" font-size="52" font-weight="bold">-OH</text>
<text transform="translate(1715.77 1537.20) scale(1.0105 1)" font-size="52" font-weight="bold">Si-O</text>
<text transform="translate(866.13 1083.90) scale(0.9641 1)" font-size="70" font-weight="bold">Soft soil</text>
<text transform="translate(866.17 1167.90) scale(0.9506 1)" font-size="70" font-weight="bold">G4</text>
<text transform="translate(866.10 1252.90) scale(0.9702 1)" font-size="70" font-weight="bold">G7</text>
<text transform="translate(866.04 1338.50) scale(0.9875 1)" font-size="70" font-weight="bold">GC</text>
<text transform="translate(801.59 1874.20) scale(0.9701 1)" font-size="84" font-weight="normal">Wavenumber(cm</text>
<text transform="translate(1365.72 1839.80) scale(0.9467 1)" font-size="57" font-weight="normal">-</text>
<text transform="translate(1388.45 1839.90) scale(0.8000 1)" font-size="57" font-weight="normal">1</text>
<text transform="translate(1413.62 1874.20) scale(0.9909 1)" font-size="84" font-weight="normal">)</text>
</svg></body></html>
